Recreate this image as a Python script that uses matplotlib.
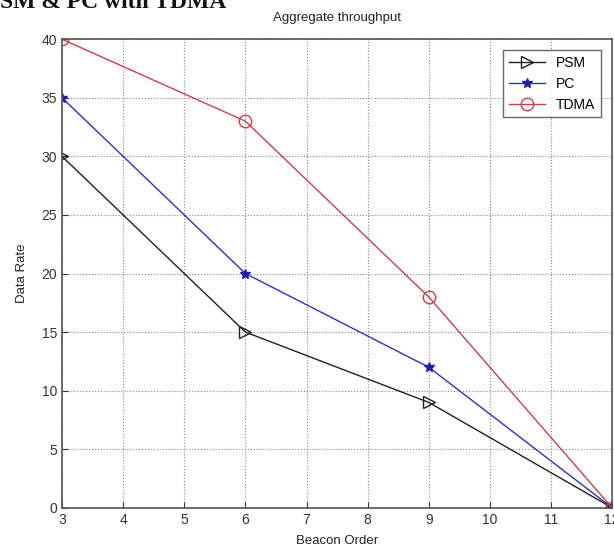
import matplotlib.pyplot as plt

beacon_order = [3, 6, 9, 12]
psm = [30, 15, 9, 0]
pc = [35, 20, 12, 0]
tdma = [40, 33, 18, 0]

plt.rcParams['font.family'] = 'Liberation Sans'

fig = plt.figure(figsize=(6.14, 5.52), dpi=100)
ax = fig.add_axes([0.101, 0.080, 0.896, 0.849])

ax.plot(beacon_order, psm, color='#202020', linewidth=1, marker='>', markersize=8,
        markerfacecolor='none', markeredgecolor='#202020', label='PSM')
ax.plot(beacon_order, pc, color='#3030c0', linewidth=1, marker='*', markersize=7,
        markerfacecolor='#2020b0', markeredgecolor='#2020b0', label='PC')
ax.plot(beacon_order, tdma, color='#c84050', linewidth=1, marker='o', markersize=9,
        markerfacecolor='none', markeredgecolor='#c84050', label='TDMA')

ax.set_xlim(3, 12)
ax.set_ylim(0, 40)
ax.set_xticks(range(3, 13))
ax.set_yticks(range(0, 41, 5))
ax.tick_params(direction='in', labelsize=10, colors='#333333', length=4)
ax.grid(True, linestyle=':', color='#888888', linewidth=0.8)
for s in ax.spines.values():
    s.set_color('#555555')
    s.set_linewidth(1.2)

ax.set_title('Aggregate throughput', fontsize=9.5, color='#222222', pad=13)
ax.set_xlabel('Beacon Order', fontsize=9.5, color='#222222', labelpad=6)
ax.set_ylabel('Data Rate', fontsize=9.5, color='#222222', labelpad=10)

leg = ax.legend(loc='upper right', fontsize=10, frameon=True, fancybox=False,
                edgecolor='#444444', borderaxespad=0.8, handlelength=2.6)
leg.get_frame().set_linewidth(1)

# caption of the source page, cut off at the top edge
fig.text(0.0, 1 - 8 / 552, 'SM & PC with TDMA', fontsize=17, fontweight='bold',
         family='Liberation Serif', va='baseline', ha='left', color='#111111')

fig.savefig('out.png', dpi=100)
